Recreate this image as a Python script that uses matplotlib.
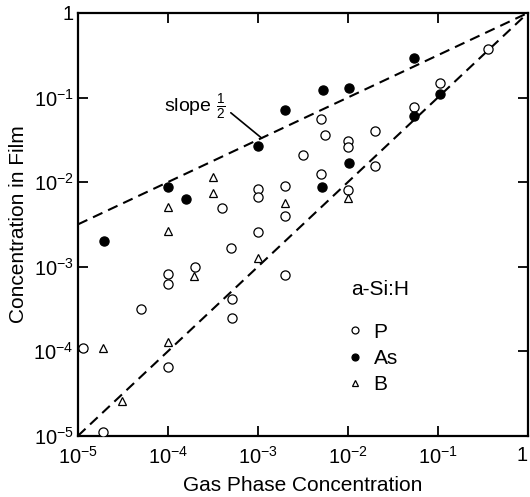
import numpy as np
import matplotlib
matplotlib.use("Agg")
import matplotlib.pyplot as plt
from matplotlib.lines import Line2D

plt.rcParams["font.family"] = ["Liberation Sans", "DejaVu Sans"]
plt.rcParams["mathtext.fontset"] = "custom"
plt.rcParams["mathtext.rm"] = "Liberation Sans"
plt.rcParams["mathtext.it"] = "Liberation Sans"

# P (open circles): gas phase vs film concentration
p_gas = [1.15e-5, 1.9e-5, 5e-5, 1e-4, 1e-4, 1e-4, 2e-4, 4e-4, 5e-4, 5.2e-4,
         5.2e-4, 1e-3, 1e-3, 1e-3, 2e-3, 2e-3, 2e-3, 3.2e-3, 5e-3, 5.6e-3,
         5e-3, 1e-2, 1e-2, 1e-2, 2e-2, 2e-2, 5.4e-2, 0.106, 0.36]
p_film = [1.1e-4, 1.1e-5, 3.2e-4, 8.1e-4, 6.2e-4, 6.5e-5, 1e-3, 5e-3, 1.67e-3, 4.1e-4,
          2.5e-4, 8.4e-3, 6.7e-3, 2.6e-3, 9e-3, 4e-3, 8e-4, 2.1e-2, 5.6e-2, 3.6e-2,
          1.24e-2, 3.1e-2, 2.6e-2, 8e-3, 4e-2, 1.56e-2, 7.8e-2, 0.15, 0.37]

# As (filled circles)
as_gas = [1.95e-5, 1e-4, 1.6e-4, 1e-3, 2e-3, 5.1e-3, 5.3e-3, 1.03e-2, 1.03e-2,
          5.4e-2, 5.4e-2, 0.106]
as_film = [2e-3, 8.8e-3, 6.3e-3, 2.7e-2, 7.2e-2, 8.7e-3, 0.122, 0.13, 1.7e-2,
           0.29, 6.1e-2, 0.109]

# B (open triangles)
b_gas = [1.9e-5, 3.1e-5, 1e-4, 1e-4, 1e-4, 1.95e-4, 3.2e-4, 3.2e-4, 1e-3, 2e-3, 1e-2]
b_film = [1.09e-4, 2.6e-5, 5.1e-3, 2.65e-3, 1.27e-4, 7.7e-4, 1.16e-2, 7.5e-3,
          1.25e-3, 5.7e-3, 6.4e-3]

decades = [1e-5, 1e-4, 1e-3, 1e-2, 1e-1, 1]
tick_labels = [r"$10^{-5}$", r"$10^{-4}$", r"$10^{-3}$", r"$10^{-2}$", r"$10^{-1}$", "1"]

fig = plt.figure(figsize=(5.30, 4.97), dpi=100)
ax = fig.add_axes([0.147, 0.123, 0.849, 0.851])

# reference lines: y = x and slope 1/2 through (1, 1)
xl = np.array([1e-5, 1.0])
ax.plot(xl, xl, color="black", ls=(0, (5, 3)), lw=1.5, zorder=2)
ax.plot(xl, xl ** 0.5, color="black", ls=(0, (5, 3)), lw=1.5, zorder=2)

ms = 6.6
ax.plot(p_gas, p_film, ls="none", marker="o", ms=ms, mfc="white", mec="black",
        mew=0.9, zorder=3)
ax.plot(as_gas, as_film, ls="none", marker="o", ms=ms, mfc="black", mec="black",
        mew=0.9, zorder=3)
ax.plot(b_gas, b_film, ls="none", marker="^", ms=5.5, mfc="white", mec="black",
        mew=0.9, zorder=3)

ax.set_xscale("log"); ax.set_yscale("log")
ax.set_xlim(1e-5, 1); ax.set_ylim(1e-5, 1)
ax.set_xticks(decades); ax.set_xticklabels(tick_labels)
ax.set_yticks(decades); ax.set_yticklabels(tick_labels)
ax.minorticks_off()
ax.tick_params(axis="both", which="major", direction="in", length=7, width=1.3,
               top=True, right=True, labelsize=14.5)
ax.tick_params(axis="x", pad=7)
ax.tick_params(axis="y", pad=3)
ax.get_xticklabels()[-1].set_horizontalalignment("right")
for sp in ax.spines.values():
    sp.set_linewidth(1.6)

ax.set_xlabel("Gas Phase Concentration", fontsize=15, labelpad=6)
ax.set_ylabel("Concentration in Film", fontsize=15, labelpad=4)

# slope annotation with leader line ending on the slope-1/2 line
x_end = 1.1e-3
ax.text(4.4e-4, 7.8e-2, r"slope $\frac{1}{2}$", fontsize=14, ha="right", va="center")
ax.annotate("", xy=(x_end, x_end ** 0.5), xytext=(5.0e-4, 6.6e-2),
            arrowprops=dict(arrowstyle="-", color="black", lw=1.2, shrinkA=0, shrinkB=0))

# legend
ax.text(0.607, 0.345, "a-Si:H", transform=ax.transAxes, fontsize=15,
        ha="left", va="center")
handles = [
    Line2D([], [], ls="none", marker="o", ms=5, mfc="white", mec="black", mew=0.9),
    Line2D([], [], ls="none", marker="o", ms=5, mfc="black", mec="black", mew=0.9),
    Line2D([], [], ls="none", marker="^", ms=4.5, mfc="white", mec="black", mew=0.9),
]
ax.legend(handles, ["P", "As", "B"], loc="upper left", bbox_to_anchor=(0.597, 0.268),
          frameon=False, fontsize=15, handlelength=0.8, handletextpad=0.5,
          labelspacing=0.35, borderpad=0, borderaxespad=0)

fig.savefig("out.png", dpi=100)
